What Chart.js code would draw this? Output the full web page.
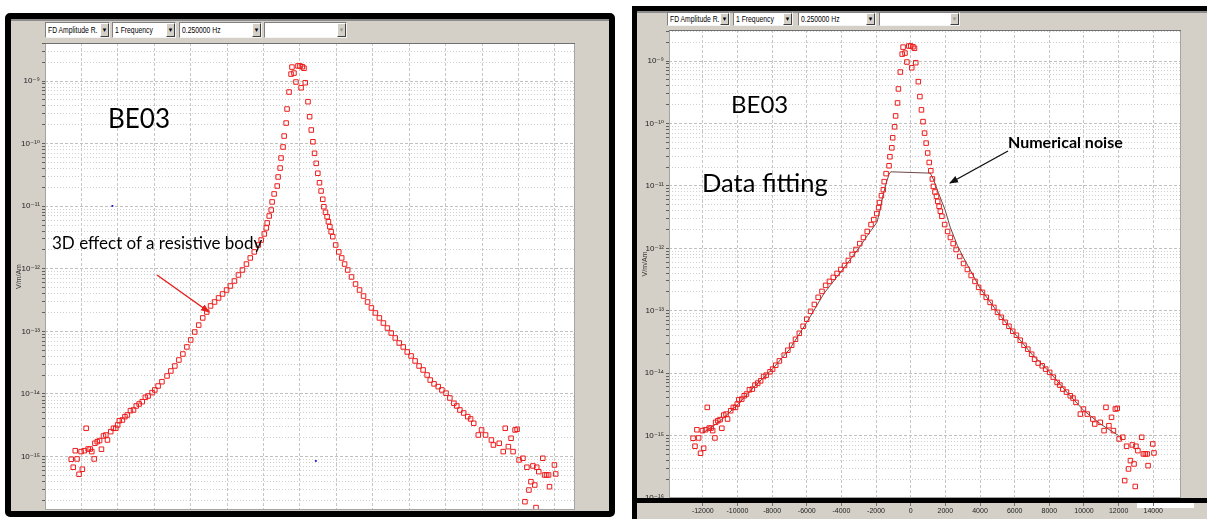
<!DOCTYPE html>
<html>
<head>
<meta charset="utf-8">
<title>BE03</title>
<script src="https://cdn.jsdelivr.net/npm/chart.js@4.4.1/dist/chart.umd.min.js"></script>
<style>
  body { margin: 0; width: 1207px; height: 519px; position: relative; overflow: hidden; background: #fff; font-family: "Liberation Sans", Arial, sans-serif; }
  .box { position: absolute; box-sizing: border-box; }
  #winL { left: 5px; top: 13px; width: 610px; height: 504px; border: 6px solid #000; border-radius: 5px; background: #d4d0c8; box-shadow: inset 0 2px 0 #8c8c8c; }
  #winR { left: 632px; top: 6px; width: 575px; height: 513px; border-left: 5px solid #000; border-top: 5px solid #000; background: #d4d0c8; box-shadow: inset 0 2px 0 #8c8c8c; }
  canvas { position: absolute; }
  .dd { position: absolute; box-sizing: border-box; background: #fff; border: 1px solid; border-color: #808080 #f4f4f4 #f4f4f4 #808080; font-size: 8.5px; color: #000; white-space: nowrap; overflow: hidden; }
  .dd span { position: absolute; left: 2px; transform: scaleX(0.8); transform-origin: left center; }
  .dd i { position: absolute; right: 0; top: 0; bottom: 0; width: 9px; box-sizing: border-box; background: #d4d0c8; border: 1px solid; border-color: #fff #404040 #404040 #fff; font-style: normal; font-size: 6px; line-height: 12px; text-align: center; }
  .dd i.off { color: #999; }
  .note { position: absolute; font-family: Lato, "Open Sans", sans-serif; line-height: 1; white-space: nowrap; color: #000; }
</style>
</head>
<body>
<div id="winL" class="box"></div>
<div id="winR" class="box"></div>
<div class="box" style="left:1137px;top:503px;width:57px;height:5px;background:#fff"></div>

<div class="dd" style="left:45px;top:22px;width:65px;height:16px"><span style="top:2px">FD Amplitude R.</span><i>▼</i></div>
<div class="dd" style="left:112px;top:22px;width:64px;height:16px"><span style="top:2px">1 Frequency</span><i>▼</i></div>
<div class="dd" style="left:179px;top:22px;width:83px;height:16px"><span style="top:2px">0.250000 Hz</span><i>▼</i></div>
<div class="dd" style="left:264px;top:22px;width:83px;height:16px"><i class="off">▼</i></div>

<div class="dd" style="left:667px;top:12px;width:63px;height:14px"><span style="top:1px">FD Amplitude R.</span><i style="line-height:11px">▼</i></div>
<div class="dd" style="left:733px;top:12px;width:60px;height:14px"><span style="top:1px">1 Frequency</span><i style="line-height:11px">▼</i></div>
<div class="dd" style="left:798px;top:12px;width:78px;height:14px"><span style="top:1px">0.250000 Hz</span><i style="line-height:11px">▼</i></div>
<div class="dd" style="left:879px;top:12px;width:81px;height:14px"><i class="off" style="line-height:11px">▼</i></div>

<canvas id="plotL" width="570" height="467" style="left:10px;top:43px"></canvas>
<canvas id="plotR" width="550" height="489" style="left:636px;top:30px"></canvas>

<div class="box" style="left:632px;top:498px;width:575px;height:5px;background:#000"></div>

<div class="note" style="left:108px;top:105px;font-size:26px">BE03</div>
<div class="note" style="left:52px;top:234px;font-size:17px">3D effect of a resistive body</div>
<div class="note" style="left:731px;top:92px;font-size:24px">BE03</div>
<div class="note" style="left:702px;top:170px;font-size:25.5px">Data fitting</div>
<div class="note" style="left:1008px;top:134px;font-size:16px;font-weight:bold">Numerical noise</div>

<svg class="box" style="left:0;top:0" width="1207" height="519">
  <defs>
    <marker id="headRed" markerWidth="9" markerHeight="8" refX="8" refY="4" orient="auto" markerUnits="userSpaceOnUse"><path d="M0,0.5 L9,4 L0,7.5 z" fill="#e3211d"/></marker>
    <marker id="headBlack" markerWidth="9" markerHeight="8" refX="8" refY="4" orient="auto" markerUnits="userSpaceOnUse"><path d="M0,0.5 L9,4 L0,7.5 z" fill="#111"/></marker>
  </defs>
  <line x1="157" y1="275" x2="209" y2="312" stroke="#e3211d" stroke-width="1.5" marker-end="url(#headRed)"/>
  <line x1="1008" y1="151" x2="950" y2="183" stroke="#111" stroke-width="1.3" marker-end="url(#headBlack)"/>
</svg>

<script>
// BE03 profile, amplitude (V/m/Am) against distance (m)
const distance = [
  -12560, -12450, -12340, -12240, -12130, -12020, -11950, -11840, -11740, -11630,
  -11520, -11430, -11300, -11260, -11130, -11000, -10900, -10790, -10660, -10570,
  -10390, -10240, -10110, -10010, -9920, -9750, -9610, -9480, -9310, -9140,
  -8990, -8830, -8660, -8490, -8340, -8120, -7970, -7790, -7580,
  -7300, -7090, -6870, -6650, -6430, -6210, -6000, -5780, -5560, -5340,
  -5120, -4910, -4690, -4470, -4250, -4030, -3820, -3600, -3380, -3160,
  -2940, -2730, -2510, -2290, -2130, -1960,
  -1850, -1800, -1690, -1580, -1530, -1420, -1250, -1200, -1090, -1040,
  -930, -870, -760, -710, -600, -490, -440, -330, -220, -110,
  0, 60, 130, 220, 290, 440, 530, 620, 710, 800,
  890, 980, 1070, 1160, 1250, 1310, 1400, 1490, 1560, 1640,
  1710, 1800,
  1960, 2130, 2290, 2450, 2620, 2830, 3050, 3270, 3490, 3710,
  3920, 4140, 4360, 4580, 4800, 5010, 5230, 5450, 5670, 5890,
  6100, 6320, 6540, 6760, 6980,
  7150, 7360, 7590, 7790, 8020, 8230, 8450, 8610, 8780, 8990,
  9210, 9370, 9540, 9790, 9970, 10190, 10510, 10620, 10940, 11160,
  11270, 11440, 11590, 11700, 11810, 11920, 12030, 12240, 12350, 12460,
  12570, 12680, 12790, 12890, 12960, 13000, 13110, 13330, 13430, 13540,
  13650, 13700, 13970, 14040
];
const amplitude = [
  9.06e-16, 6.75e-16, 1.24e-15, 9.16e-16, 5.21e-16, 1.20e-15, 6.27e-16, 1.24e-15, 2.83e-15, 1.32e-15,
  1.32e-15, 1.20e-15, 9.16e-16, 1.63e-15, 1.73e-15, 1.80e-15, 1.31e-15, 2.13e-15, 2.21e-15, 1.84e-15,
  2.50e-15, 2.83e-15, 2.83e-15, 3.20e-15, 3.74e-15, 3.84e-15, 4.34e-15, 4.62e-15, 5.41e-15, 5.55e-15,
  6.43e-15, 6.92e-15, 7.53e-15, 8.85e-15, 9.29e-15, 1.05e-14, 1.16e-14, 1.34e-14, 1.57e-14,
  1.94e-14, 2.33e-14, 2.80e-14, 3.49e-14, 4.35e-14, 5.64e-14, 7.30e-14, 9.78e-14, 1.26e-13, 1.64e-13,
  2.04e-13, 2.55e-13, 2.95e-13, 3.42e-13, 3.96e-13, 4.58e-13, 5.31e-13, 6.38e-13, 7.96e-13, 9.57e-13,
  1.19e-12, 1.49e-12, 1.86e-12, 2.40e-12, 2.88e-12, 3.60e-12,
  4.49e-12, 5.40e-12, 6.97e-12, 8.69e-12, 1.17e-11, 1.57e-11, 2.10e-11, 2.93e-11, 4.07e-11, 5.89e-11,
  8.83e-11, 1.32e-10, 2.13e-10, 3.57e-10, 6.67e-10, 1.29e-9, 1.67e-9, 1.34e-9, 9.64e-10, 1.74e-9,
  1.74e-9, 7.81e-10, 1.69e-9, 1.60e-9, 9.39e-10, 4.67e-10, 2.69e-10, 1.65e-10, 1.07e-10, 7.00e-11,
  4.84e-11, 3.36e-11, 2.37e-11, 1.75e-11, 1.29e-11, 9.81e-12, 7.99e-12, 6.80e-12, 5.65e-12, 4.71e-12,
  3.92e-12, 3.26e-12,
  2.40e-12, 1.86e-12, 1.49e-12, 1.19e-12, 9.57e-13, 7.40e-13, 5.71e-13, 4.58e-13, 3.67e-13, 2.95e-13,
  2.37e-13, 1.97e-13, 1.64e-13, 1.36e-13, 1.13e-13, 9.42e-14, 7.85e-14, 6.53e-14, 5.64e-14, 4.69e-14,
  4.05e-14, 3.37e-14, 2.80e-14, 2.42e-14, 2.01e-14,
  1.67e-14, 1.45e-14, 1.31e-14, 1.16e-14, 1.03e-14, 8.63e-15, 7.10e-15, 6.43e-15, 5.55e-15, 4.97e-15,
  4.34e-15, 3.99e-15, 3.40e-15, 2.21e-15, 2.66e-15, 2.21e-15, 1.84e-15, 1.53e-15, 1.63e-15, 1.20e-15,
  2.83e-15, 1.44e-15, 1.96e-15, 1.20e-15, 2.66e-15, 2.73e-15, 8.83e-16, 9.39e-16, 1.90e-16, 6.75e-16,
  2.92e-16, 3.97e-16, 7.08e-16, 3.51e-16, 1.53e-16, 6.75e-16, 5.74e-16, 9.39e-16, 5.08e-16, 5.08e-16,
  5.08e-16, 3.30e-16, 7.34e-16, 5.27e-16
];

// fitted curve (right panel)
const fitDistance = [-12000, -11000, -10000, -9000, -8000, -7000, -6000, -5000, -4000, -3000,
  -2500, -1954, -1817, -1628, -1440, -1246, -1154, 1131, 1326, 1611,
  1988, 2274, 2700, 3000, 4000, 5000, 6000, 7000, 8000, 9000, 10000, 11000, 12000];
const fitAmplitude = [1.1e-15, 1.7e-15, 3.1e-15, 6.2e-15, 1.15e-14, 2.4e-14, 6.5e-14, 1.9e-13, 4.3e-13, 1.0e-12,
  1.6e-12, 2.6e-12, 3.6e-12, 6.5e-12, 1.05e-11, 1.55e-11, 1.68e-11, 1.6e-11, 1.24e-11, 7.6e-12,
  4.1e-12, 2.2e-12, 1.1e-12, 7.5e-13, 2.3e-13, 9.6e-14, 4.3e-14, 2.0e-14, 1.05e-14, 5.0e-15, 2.5e-15, 1.5e-15, 1.0e-15];

// stray blue markers (left panel)
const markerDistance = [-10300, 870, -14280];
const markerAmplitude = [1.01e-11, 8.51e-16, 2.03e-11];

const xTickValues = [-12000, -10000, -8000, -6000, -4000, -2000, 0, 2000, 4000, 6000, 8000, 10000, 12000, 14000];

const SUP = { '-': '\u207B', '0': '\u2070', '1': '\u00B9', '2': '\u00B2', '3': '\u00B3', '4': '\u2074',
  '5': '\u2075', '6': '\u2076', '7': '\u2077', '8': '\u2078', '9': '\u2079' };

function toPoints(xs, ys) {
  return xs.map((x, i) => ({ x: x, y: ys[i] }));
}

function decadeTicks(scale) {
  const out = [];
  for (let e = -17; e <= -7; e++) {
    for (let m = 1; m <= 9; m++) {
      const v = m * Math.pow(10, e);
      if (v >= scale.min * 0.9999 && v <= scale.max * 1.0001) out.push({ value: v, major: m === 1 });
    }
  }
  scale.ticks = out;
}

function decadeLabel(v) {
  const e = Math.round(Math.log10(v));
  if (Math.abs(v / Math.pow(10, e) - 1) > 1e-6) return '';
  return '10' + String(e).split('').map(c => SUP[c]).join('');
}

const isMajor = c => !!(c.tick && c.tick.major);

const plotFrame = {
  id: 'plotFrame',
  beforeDraw(chart) {
    const a = chart.chartArea, ctx = chart.ctx;
    ctx.save();
    ctx.fillStyle = '#fff';
    ctx.fillRect(a.left, a.top, a.right - a.left, a.bottom - a.top);
    ctx.restore();
  },
  afterDraw(chart) {
    const a = chart.chartArea, ctx = chart.ctx;
    ctx.save();
    ctx.lineWidth = 1;
    ctx.strokeStyle = '#a4a4a4';
    ctx.strokeRect(a.left + 0.5, a.top + 0.5, a.right - a.left - 1, a.bottom - a.top - 1);
    ctx.strokeStyle = '#707070';
    ctx.beginPath();
    ctx.moveTo(a.left, a.top + 0.5);
    ctx.lineTo(a.right, a.top + 0.5);
    ctx.stroke();
    ctx.restore();
  }
};

function makePlot(id, cfg) {
  const canvas = document.getElementById(id);
  const chart = new Chart(canvas, {
    type: 'scatter',
    data: { datasets: cfg.datasets },
    options: {
      responsive: false,
      maintainAspectRatio: false,
      animation: false,
      events: [],
      layout: { padding: 0 },
      plugins: { legend: { display: false }, tooltip: { enabled: false } },
      scales: {
        x: {
          type: 'linear',
          min: cfg.xMin,
          max: cfg.xMax,
          afterBuildTicks: s => { s.ticks = xTickValues.map(v => ({ value: v, major: true })); },
          afterFit: s => { s.height = cfg.xHeight; },
          grid: { color: '#c6c6c6', tickColor: '#707070', tickLength: 8, drawTicks: cfg.xLabels, tickBorderDash: [] },
          border: { display: false, dash: [3, 2] },
          ticks: {
            display: cfg.xLabels, autoSkip: false, maxRotation: 0, padding: 1,
            color: '#222', font: { size: 7, family: '"Liberation Sans", Arial' },
            callback: v => String(v)
          }
        },
        y: {
          type: 'logarithmic',
          min: cfg.yMin,
          max: cfg.yMax,
          afterBuildTicks: decadeTicks,
          afterFit: s => { s.width = cfg.yWidth; },
          title: { display: true, text: 'V/m/Am', color: '#333', font: { size: 7 }, padding: { top: 5, bottom: 0 } },
          grid: { color: c => isMajor(c) ? '#c0c0c0' : '#d0d0d0', tickColor: '#606060', tickLength: 3, tickBorderDash: [] },
          border: { display: false, dash: c => isMajor(c) ? [3, 2] : [1, 2] },
          ticks: {
            autoSkip: false, padding: 2, color: '#222',
            font: c => isMajor(c) ? { size: 8, family: '"Liberation Sans", "DejaVu Sans"' } : { size: 1, lineHeight: 0 },
            callback: decadeLabel
          }
        }
      }
    },
    plugins: [plotFrame]
  });

  // the axes reserve a little padding; grow the canvas so the plot area sits where the window has it
  const a = chart.chartArea;
  const lostTop = Math.round(a.top);
  const lostBottom = Math.round(canvas.height - cfg.xHeight - a.bottom);
  if (lostTop > 0 || lostBottom > 0) {
    const w = canvas.width, h = canvas.height;
    canvas.style.top = (parseFloat(canvas.style.top) - lostTop) + 'px';
    chart.resize(w, h + lostTop + lostBottom);
  }
  return chart;
}

const measured = {
  label: 'BE03',
  data: toPoints(distance, amplitude),
  pointStyle: 'rect',
  pointRadius: 3.2,
  borderColor: '#ee1c1c',
  backgroundColor: 'rgba(0,0,0,0)',
  borderWidth: 1,
  order: 1
};

makePlot('plotL', {
  xMin: -14000, xMax: 15100, yMin: 1.4e-16, yMax: 4.05e-9,
  yWidth: 35, xHeight: 0, xLabels: false,
  datasets: [
    measured,
    {
      label: 'markers',
      data: toPoints(markerDistance, markerAmplitude),
      pointStyle: 'rect', pointRadius: 1.3,
      borderColor: '#1a1ad8', backgroundColor: '#1a1ad8', borderWidth: 0,
      clip: false, order: 0
    }
  ]
});

makePlot('plotR', {
  xMin: -13950, xMax: 15600, yMin: 1e-16, yMax: 3.14e-9,
  yWidth: 33, xHeight: 21, xLabels: true,
  datasets: [
    Object.assign({}, measured, { data: toPoints(distance, amplitude) }),
    {
      label: 'fit',
      data: toPoints(fitDistance, fitAmplitude),
      showLine: true, pointRadius: 0,
      borderColor: '#6e4848', borderWidth: 1,
      order: 2
    }
  ]
});
</script>
</body>
</html>
